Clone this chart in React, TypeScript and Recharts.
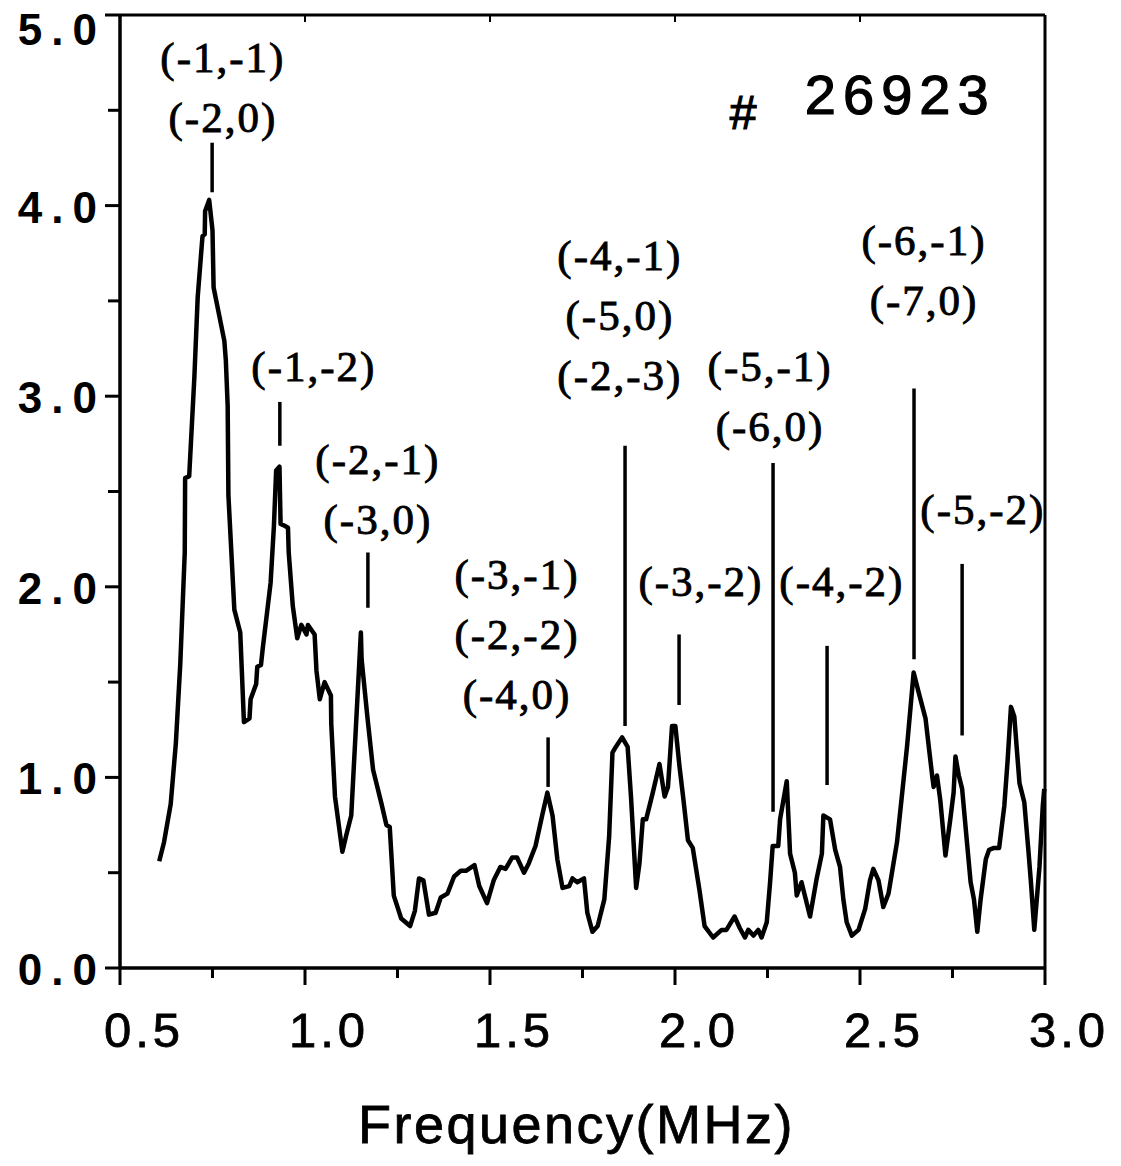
import React from "react";
import { LineChart, Line, XAxis, YAxis, ReferenceLine, ReferenceDot } from "recharts";

// spectrum (MHz, amplitude a.u.)
const freq = [
  0.606, 0.619, 0.637, 0.651, 0.663, 0.675, 0.676, 0.687, 0.701, 0.71, 0.723, 0.729, 0.73, 0.741, 0.75, 0.753,
  0.782, 0.786, 0.791, 0.793, 0.809, 0.825, 0.835, 0.85, 0.853, 0.868, 0.871, 0.881, 0.886, 0.907, 0.916, 0.922,
  0.931, 0.934, 0.945, 0.954, 0.956, 0.967, 0.979, 0.99, 1.004, 1.008, 1.026, 1.031, 1.04, 1.053, 1.07, 1.071,
  1.081, 1.101, 1.112, 1.125, 1.138, 1.151, 1.153, 1.169, 1.184, 1.207, 1.22, 1.229, 1.24, 1.26, 1.284, 1.297,
  1.308, 1.32, 1.335, 1.353, 1.367, 1.385, 1.403, 1.421, 1.435, 1.458, 1.471, 1.492, 1.51, 1.528, 1.542, 1.56,
  1.573, 1.592, 1.605, 1.623, 1.641, 1.655, 1.669, 1.682, 1.696, 1.714, 1.723, 1.736, 1.754, 1.763, 1.777, 1.791,
  1.809, 1.822, 1.831, 1.84, 1.857, 1.872, 1.881, 1.895, 1.904, 1.913, 1.922, 1.94, 1.958, 1.972, 1.981, 1.992,
  2.001, 2.012, 2.023, 2.035, 2.048, 2.066, 2.08, 2.103, 2.126, 2.139, 2.161, 2.175, 2.189, 2.198, 2.212, 2.225,
  2.234, 2.248, 2.257, 2.264, 2.279, 2.284, 2.302, 2.311, 2.324, 2.329, 2.342, 2.365, 2.383, 2.397, 2.401, 2.419,
  2.433, 2.446, 2.455, 2.464, 2.478, 2.496, 2.514, 2.527, 2.536, 2.55, 2.563, 2.577, 2.6, 2.613, 2.627, 2.645,
  2.658, 2.677, 2.686, 2.695, 2.699, 2.708, 2.717, 2.731, 2.744, 2.753, 2.758, 2.767, 2.776, 2.79, 2.799, 2.808,
  2.817, 2.826, 2.84, 2.849, 2.862, 2.876, 2.89, 2.899, 2.908, 2.917, 2.931, 2.944, 2.955, 2.962, 2.971, 2.985,
  2.994, 2.998,
];
const amp = [
  0.56, 0.66, 0.86, 1.18, 1.6, 2.18, 2.57, 2.58, 3.1, 3.52, 3.84, 3.85, 3.97, 4.03, 3.87, 3.57,
  3.29, 3.19, 2.95, 2.48, 1.88, 1.76, 1.29, 1.31, 1.41, 1.49, 1.58, 1.59, 1.68, 2.02, 2.32, 2.61,
  2.63, 2.33, 2.32, 2.31, 2.18, 1.9, 1.73, 1.8, 1.75, 1.8, 1.75, 1.56, 1.41, 1.5, 1.43, 1.28,
  0.9, 0.61, 0.7, 0.8, 1.28, 1.76, 1.62, 1.31, 1.04, 0.86, 0.75, 0.74, 0.38, 0.26, 0.22, 0.3,
  0.47, 0.46, 0.28, 0.29, 0.37, 0.39, 0.48, 0.51, 0.51, 0.54, 0.43, 0.34, 0.46, 0.53, 0.52, 0.58,
  0.58, 0.5, 0.55, 0.64, 0.8, 0.92, 0.8, 0.57, 0.42, 0.43, 0.47, 0.45, 0.47, 0.29, 0.19, 0.22,
  0.36, 0.69, 1.13, 1.16, 1.21, 1.16, 0.9, 0.42, 0.55, 0.78, 0.78, 0.92, 1.07, 0.9, 0.95, 1.27,
  1.27, 1.06, 0.88, 0.67, 0.63, 0.41, 0.22, 0.16, 0.2, 0.2, 0.27, 0.21, 0.16, 0.2, 0.17, 0.2,
  0.16, 0.24, 0.45, 0.64, 0.64, 0.78, 0.98, 0.6, 0.5, 0.38, 0.45, 0.27, 0.47, 0.6, 0.8, 0.78,
  0.62, 0.53, 0.36, 0.24, 0.17, 0.2, 0.31, 0.46, 0.52, 0.46, 0.32, 0.39, 0.66, 0.9, 1.16, 1.55,
  1.45, 1.31, 1.16, 1.01, 0.95, 1.01, 0.88, 0.59, 0.78, 0.92, 1.11, 1.01, 0.94, 0.64, 0.45, 0.36,
  0.19, 0.36, 0.57, 0.62, 0.63, 0.63, 0.85, 1.09, 1.37, 1.32, 0.97, 0.87, 0.62, 0.45, 0.2, 0.53,
  0.85, 0.94,
];

const xTicks = [0.5, 0.75, 1, 1.25, 1.5, 1.75, 2, 2.25, 2.5, 2.75, 3];
const yTicks = [0, 0.5, 1, 1.5, 2, 2.5, 3, 3.5, 4, 4.5, 5];

// mode labels: marker at f from y0 to y1, text lines centred at (lx, ly)
const modes = [
  { f: 0.749, y0: 4.07, y1: 4.33, lx: 0.778, ly: 4.7, lines: ["(-1,-1)", "(-2,0)"] },
  { f: 0.932, y0: 2.74, y1: 2.97, lx: 1.024, ly: 3.08, lines: ["(-1,-2)"] },
  { f: 1.17, y0: 1.89, y1: 2.18, lx: 1.197, ly: 2.59, lines: ["(-2,-1)", "(-3,0)"] },
  { f: 1.657, y0: 0.95, y1: 1.21, lx: 1.573, ly: 1.99, lines: ["(-3,-1)", "(-2,-2)", "(-4,0)"] },
  { f: 1.865, y0: 1.27, y1: 2.74, lx: 1.851, ly: 3.66, lines: ["(-4,-1)", "(-5,0)", "(-2,-3)"] },
  { f: 2.011, y0: 1.38, y1: 1.75, lx: 2.07, ly: 1.95, lines: ["(-3,-2)"] },
  { f: 2.265, y0: 0.82, y1: 2.65, lx: 2.257, ly: 3.08, lines: ["(-5,-1)", "(-6,0)"] },
  { f: 2.411, y0: 0.96, y1: 1.69, lx: 2.451, ly: 1.95, lines: ["(-4,-2)"] },
  { f: 2.646, y0: 1.62, y1: 3.04, lx: 2.673, ly: 3.74, lines: ["(-6,-1)", "(-7,0)"] },
  { f: 2.776, y0: 1.22, y1: 2.12, lx: 2.832, ly: 2.33, lines: ["(-5,-2)"] },
];

const rows = freq.map((f, i) => ({ f, a: amp[i] }));

const SANS = "'Liberation Sans', Arial, sans-serif";
const SERIF = "'Liberation Serif', 'Times New Roman', serif";

const isMajor = (v: number, step: number) => Math.abs(v / step - Math.round(v / step)) < 1e-6;

const BottomTick = (p: any) => {
  const v = p.payload.value;
  const major = isMajor(v, 0.5);
  return (
    <g>
      <line x1={p.x} x2={p.x} y1={p.y} y2={p.y + (major ? 17 : 10)} stroke="#000" strokeWidth={3} />
      {major && (
        <text x={p.x + 24} y={p.y + 79} textAnchor="middle" fontFamily={SANS} fontSize={49} letterSpacing={4}
          fill="#000" stroke="#000" strokeWidth={0.8}>
          {v.toFixed(1)}
        </text>
      )}
    </g>
  );
};

const LeftTick = (p: any) => {
  const v = p.payload.value;
  const major = isMajor(v, 1);
  return (
    <g>
      <line x1={p.x - (major ? 15 : 12)} x2={p.x} y1={p.y} y2={p.y} stroke="#000" strokeWidth={3} />
      {major && (
        <text x={p.x - 14} y={Math.max(p.y + 17, 45)} textAnchor="end" fontFamily={SANS} fontWeight={700} fontSize={44}
          letterSpacing={9} fill="#000">
          {v.toFixed(1)}
        </text>
      )}
    </g>
  );
};

const RightTick = (p: any) => <line x1={p.x} x2={p.x + 7} y1={p.y} y2={p.y} stroke="#000" strokeWidth={2} />;
const TopTick = (p: any) => <line x1={p.x} x2={p.x} y1={p.y} y2={p.y + 7} stroke="#000" strokeWidth={2} />;

export default function App() {
  return (
    <div style={{ position: "absolute", left: 0, top: 0, background: "#fff" }}>
      <LineChart width={1121} height={1166} data={rows} margin={{ top: 10, right: 66, bottom: 18, left: 20 }}>
        <XAxis
          dataKey="f"
          type="number"
          domain={[0.5, 3]}
          ticks={xTicks}
          interval={0}
          height={180}
          tickSize={0}
          tickMargin={0}
          tickLine={false}
          axisLine={{ stroke: "#000", strokeWidth: 3.5 }}
          tick={<BottomTick />}
          label={{
            value: "Frequency(MHz)", position: "insideBottom", offset: 5, dx: -6, fontFamily: SANS, fontSize: 54,
            letterSpacing: 2.5, fill: "#000", stroke: "#000", strokeWidth: 0.8,
          }}
        />
        <XAxis
          xAxisId="top"
          orientation="top"
          dataKey="f"
          type="number"
          domain={[0.5, 3]}
          ticks={xTicks.filter((t) => isMajor(t, 0.5))}
          interval={0}
          height={5}
          tickSize={0}
          tickMargin={0}
          tickLine={false}
          axisLine={{ stroke: "#000", strokeWidth: 3 }}
          tick={<TopTick />}
        />
        <YAxis
          type="number"
          domain={[0, 5]}
          ticks={yTicks}
          interval={0}
          width={100}
          tickSize={0}
          tickMargin={0}
          tickLine={false}
          axisLine={{ stroke: "#000", strokeWidth: 3.5 }}
          tick={<LeftTick />}
        />
        <YAxis
          yAxisId="right"
          orientation="right"
          type="number"
          domain={[0, 5]}
          ticks={yTicks}
          interval={0}
          width={10}
          tickSize={0}
          tickMargin={0}
          tickLine={false}
          axisLine={{ stroke: "#000", strokeWidth: 3 }}
          tick={<RightTick />}
        />
        <Line type="linear" dataKey="a" stroke="#000" strokeWidth={4.5} dot={false} isAnimationActive={false}
          strokeLinejoin="round" />
        {modes.map((m, i) => (
          <ReferenceLine
            key={"l" + i}
            segment={[{ x: m.f, y: m.y0 }, { x: m.f, y: m.y1 }]}
            stroke="#000"
            strokeWidth={3.5}
          />
        ))}
        {modes.map((m, i) => (
          <ReferenceDot
            key={"t" + i}
            x={m.lx}
            y={m.ly}
            r={0}
            shape={(p: any) => (
              <text x={p.cx} y={p.cy} textAnchor="middle" fontFamily={SERIF} fontSize={43} letterSpacing={2}
                fill="#000" stroke="#000" strokeWidth={0.9}>
                {m.lines.map((s, k) => (
                  <tspan key={k} x={p.cx} dy={k === 0 ? 0 : 60}>
                    {s}
                  </tspan>
                ))}
              </text>
            )}
          />
        ))}
        <ReferenceDot
          x={2.351}
          y={4.48}
          r={0}
          shape={(p: any) => (
            <g fill="#000" stroke="#000" strokeWidth={1.2} fontFamily={SANS}>
              <text x={p.cx - 75} y={p.cy + 15} fontSize={48}>
                #
              </text>
              <text x={p.cx} y={p.cy} fontSize={56} letterSpacing={7}>
                26923
              </text>
            </g>
          )}
        />
      </LineChart>
    </div>
  );
}
